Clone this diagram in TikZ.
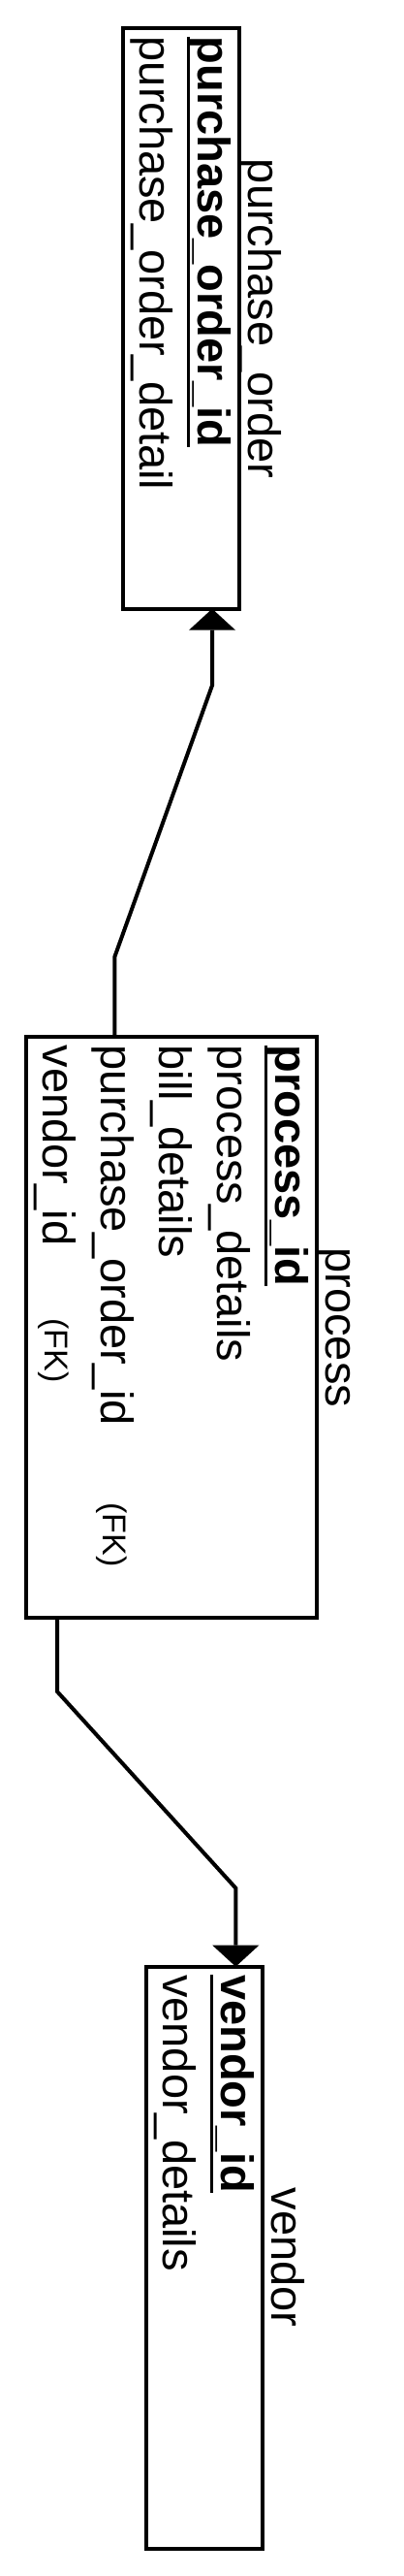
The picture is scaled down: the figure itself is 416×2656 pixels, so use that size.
\documentclass[tikz,border=0pt]{standalone}
\usepackage{fontspec}
\setmainfont{Liberation Sans}
\usetikzlibrary{arrows.meta}
\begin{document}
\begin{tikzpicture}[x=1pt,y=-1pt,
  box/.style={draw, line width=4pt, inner sep=0pt, outer sep=0pt, anchor=north west},
  txt/.style={rotate=-90, anchor=base west, inner sep=0pt, outer sep=0pt, font=\fontsize{47}{56}\selectfont},
  pk/.style={txt, font=\fontsize{47}{56}\selectfont\bfseries},
  fk/.style={txt, font=\fontsize{34}{40}\selectfont},
  ttl/.style={txt, anchor=base},
  conn/.style={line width=4pt, -{Triangle[length=22pt,width=48pt,line width=0pt]}},
  uline/.style={line width=3.5pt}]
\useasboundingbox (0,0) rectangle (416,2656);

% purchase_order
\node[box, minimum width=120pt, minimum height=598.4pt] (po) at (126.7,29.3) {};
\node[ttl] (poT) at (256.7,328.5) {purchase\_order};
\node[pk] (poPK) at (204.2,37.8) {purchase\_order\_id};
\node[txt] (poA1) at (144.2,37.8) {purchase\_order\_detail};
\draw[uline] ([xshift=-9.5pt]poPK.base west) -- ([xshift=-9.5pt]poPK.base east);

% process
\node[box, minimum width=300pt, minimum height=599pt] (pr) at (26.7,1069.3) {};
\node[ttl] (prT) at (336.7,1368.8) {process};
\node[pk] (prPK) at (284.2,1077.8) {process\_id};
\node[txt] (prA1) at (224.2,1077.8) {process\_details};
\node[txt] (prA2) at (164.2,1077.8) {bill\_details};
\node[txt] (prA3) at (104.2,1077.8) {purchase\_order\_id};
\node[txt] (prA4) at (44.2,1077.8) {vendor\_id};
\node[fk] (prF3) at (106.7,1549.3) {(FK)};
\node[fk] (prF4) at (46.7,1359.3) {(FK)};
\draw[uline] ([xshift=-9.5pt]prPK.base west) -- ([xshift=-9.5pt]prPK.base east);

% vendor
\node[box, minimum width=120pt, minimum height=600pt] (ve) at (150.7,2027.7) {};
\node[ttl] (veT) at (280.7,2327.7) {vendor};
\node[pk] (vePK) at (228.2,2036.2) {vendor\_id};
\node[txt] (veA1) at (168.2,2036.2) {vendor\_details};
\draw[uline] ([xshift=-9.5pt]vePK.base west) -- ([xshift=-9.5pt]vePK.base east);

% connectors
\coordinate (b1) at (118.3,986.7);
\coordinate (b2) at (219,706.7);
\draw[conn] (pr.north -| b1) -- (b1) -- (b2) -- (po.south -| b2);
\coordinate (b3) at (59,1744);
\coordinate (b4) at (243.3,1946.7);
\draw[conn] (pr.south -| b3) -- (b3) -- (b4) -- (ve.north -| b4);
\end{tikzpicture}
\end{document}
